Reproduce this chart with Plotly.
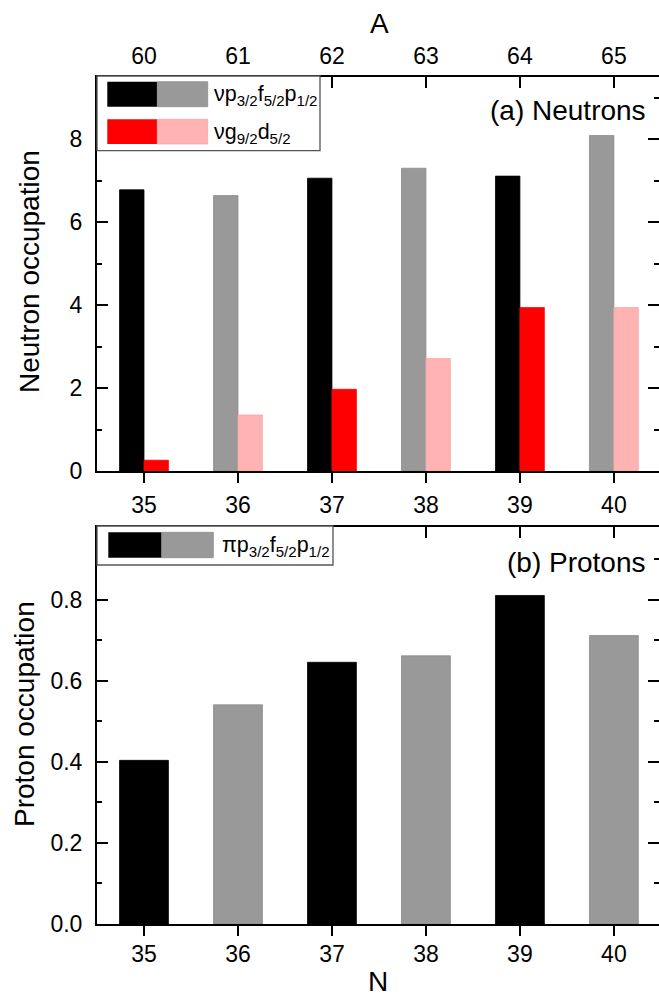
import plotly.graph_objects as go

# ---------------- data ----------------
N = [35, 36, 37, 38, 39, 40]
A = [60, 61, 62, 63, 64, 65]
neutron_pfp = [6.78, 6.64, 7.06, 7.30, 7.11, 8.09]   # nu p3/2 f5/2 p1/2
neutron_gd = [0.26, 1.35, 1.97, 2.71, 3.94, 3.94]    # nu g9/2 d5/2
proton_pfp = [0.404, 0.541, 0.646, 0.662, 0.811, 0.712]  # pi p3/2 f5/2 p1/2

N_range = [34.5, 40.48]
A_range = [59.5, 65.48]

# ---------------- styles ----------------
W, H = 659, 996
FONT = "Liberation Sans, Arial, sans-serif"
BLACK, GRAY, RED, PINK = "#000000", "#999999", "#ff0000", "#ffb3b3"
pfp_colors = [BLACK if n % 2 else GRAY for n in N]
gd_colors = [RED if n % 2 else PINK for n in N]
pfp_lines = ["#000000" if n % 2 else "#8c8c8c" for n in N]
gd_lines = ["#ff0000" if n % 2 else "#f2a8a8" for n in N]


def px(x):
    return x / W


def py(y):
    return 1 - y / H


fig = go.Figure()
fig.add_trace(go.Bar(x=N, y=neutron_pfp, name="νp3/2f5/2p1/2",
                     marker=dict(color=pfp_colors, line=dict(color=pfp_lines, width=0.8)),
                     xaxis="x", yaxis="y", showlegend=False))
fig.add_trace(go.Bar(x=N, y=neutron_gd, name="νg9/2d5/2",
                     marker=dict(color=gd_colors, line=dict(color=gd_lines, width=0.8)),
                     xaxis="x", yaxis="y", showlegend=False))
fig.add_trace(go.Bar(x=N, y=proton_pfp, name="πp3/2f5/2p1/2",
                     marker=dict(color=pfp_colors, line=dict(color=pfp_lines, width=0.8)),
                     xaxis="x2", yaxis="y2", showlegend=False))
# empty helper traces so that the top axes (A scale, panel b top ticks) get drawn
fig.add_trace(go.Scatter(x=A, y=[None] * len(A), xaxis="x3", yaxis="y",
                         mode="markers", showlegend=False, hoverinfo="skip"))
fig.add_trace(go.Scatter(x=N, y=[None] * len(N), xaxis="x4", yaxis="y2",
                         mode="markers", showlegend=False, hoverinfo="skip"))

tickfont = dict(family=FONT, size=23, color="black")
common = dict(showgrid=False, zeroline=False, showline=True, linewidth=2,
              linecolor="black", tickcolor="black", tickwidth=2,
              tickfont=tickfont, automargin=False)

xdom = [px(97), 1.0]
fig.update_layout(
    width=W, height=H,
    margin=dict(l=0, r=0, t=0, b=0),
    paper_bgcolor="white", plot_bgcolor="white",
    barmode="group", bargap=0.48, bargroupgap=0,
    font=dict(family=FONT, color="black"),
    xaxis=dict(domain=xdom, anchor="y", range=N_range, tickvals=N,
               ticks="outside", ticklen=10, ticklabelstandoff=2, **common),
    yaxis=dict(domain=[py(471), py(77)], anchor="x", range=[0, 9.5],
               tick0=0, dtick=2, ticks="inside", ticklen=11, mirror="ticks",
               ticklabelstandoff=8,
               minor=dict(dtick=1, tick0=0, ticks="inside", ticklen=5,
                          tickwidth=2, tickcolor="black"), **common),
    xaxis3=dict(overlaying="x", anchor="y", side="top", range=A_range,
                tickvals=A, ticks="inside", ticklen=11, ticklabelstandoff=2,
                **common),
    xaxis2=dict(domain=xdom, anchor="y2", range=N_range, tickvals=N,
                ticks="outside", ticklen=10, ticklabelstandoff=-2, **common),
    yaxis2=dict(domain=[py(924), py(527)], anchor="x2", range=[0, 0.98],
                tick0=0, dtick=0.2, tickformat=".1f", ticks="inside",
                ticklen=11, mirror="ticks", ticklabelstandoff=8,
                minor=dict(dtick=0.1, tick0=0, ticks="inside", ticklen=5,
                           tickwidth=2, tickcolor="black"), **common),
    xaxis4=dict(overlaying="x2", anchor="y2", side="top", range=N_range,
                tickvals=N, ticks="inside", ticklen=11, showticklabels=False,
                **common),
)

shapes = []


def rect(x0, x1, y0, y1, fill, line_color=None, lw=0):
    shapes.append(dict(type="rect", xref="paper", yref="paper", layer="above",
                       x0=px(x0), x1=px(x1), y0=py(y1), y1=py(y0),
                       fillcolor=fill,
                       line=dict(color=line_color or fill, width=lw)))


# legend (a)
rect(97, 320, 76, 150.7, "white", "#555555", 1.3)
rect(107.3, 157.3, 81.7, 106.7, BLACK)
rect(157.3, 207.7, 81.7, 106.7, GRAY, "#8c8c8c", 0.8)
rect(107.3, 157.3, 119.3, 144, RED)
rect(157.3, 207.7, 119.3, 144, PINK, "#f2a8a8", 0.8)
# legend (b)
rect(97, 333, 526, 565, "white", "#555555", 1.3)
rect(108.3, 161.7, 532.3, 557.7, BLACK)
rect(161.7, 213.3, 532.3, 557.7, GRAY, "#8c8c8c", 0.8)

annotations = []


def text(s, x, y, size, xanchor="center", yanchor="middle", angle=0):
    annotations.append(dict(text=s, xref="paper", yref="paper", x=px(x), y=py(y),
                            xanchor=xanchor, yanchor=yanchor, textangle=angle,
                            showarrow=False, font=dict(family=FONT, size=size, color="black")))


text("νp<sub>3/2</sub>f<sub>5/2</sub>p<sub>1/2</sub>", 212, 96, 21.5, xanchor="left")
text("νg<sub>9/2</sub>d<sub>5/2</sub>", 212, 133, 21.5, xanchor="left")
text("πp<sub>3/2</sub>f<sub>5/2</sub>p<sub>1/2</sub>", 220, 546, 21.5, xanchor="left")
text("(a) Neutrons", 648, 110, 28, xanchor="right")
text("(b) Protons", 648, 562, 28, xanchor="right")
text("A", 379, 24, 28)
text("N", 378, 981, 28)
text("Neutron occupation", 29, 272, 28, angle=-90)
text("Proton occupation", 24, 714, 28, angle=-90)

fig.update_layout(shapes=shapes, annotations=annotations)
fig.write_html("out.html",
               config={"displayModeBar": False},
               post_script="document.body.style.margin='0';"
                           "document.body.style.overflow='hidden';")
